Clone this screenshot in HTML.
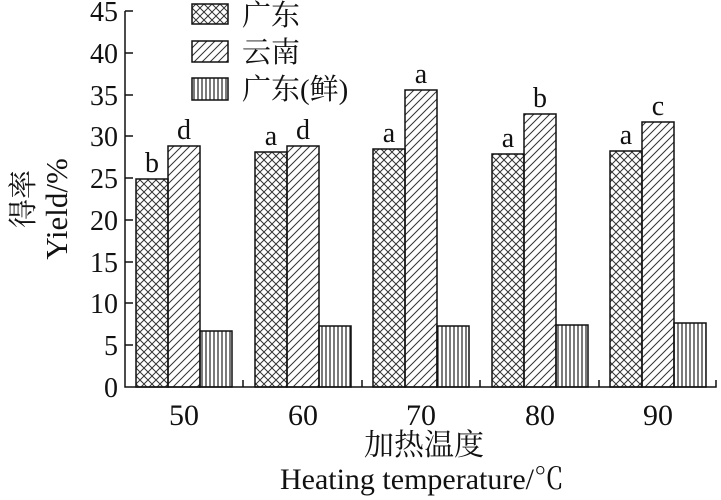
<!DOCTYPE html>
<html><head><meta charset="utf-8"><style>body{margin:0;background:#fff}svg{display:block}text{font-family:"Liberation Serif","Noto Serif CJK SC",serif;fill:#111}</style></head><body>
<svg width="721" height="500" viewBox="0 0 721 500" xmlns="http://www.w3.org/2000/svg">
<defs>
<pattern id="x" width="8" height="8" patternUnits="userSpaceOnUse"><path d="M0,0L8,8M8,0L0,8" stroke="#333" stroke-width="1"/></pattern>
<pattern id="d" width="8" height="8" patternUnits="userSpaceOnUse"><path d="M-2,10L10,-2M-2,2L2,-2M6,10L10,6" stroke="#333" stroke-width="1"/></pattern>
<pattern id="v" width="4" height="8" patternUnits="userSpaceOnUse"><path d="M2,0V8" stroke="#222" stroke-width="1.2"/></pattern>
</defs>
<g stroke="#111" stroke-width="1.5" fill="none">
<path d="M125,11V387H716V380"/>
<path d="M125,11h8M125,53h8M125,95h8M125,136h8M125,178h8M125,220h8M125,262h8M125,303h8M125,345h8"/>
<path d="M243,387v-7M362,387v-7M480,387v-7M599,387v-7"/>
</g>
<g font-size="28" text-anchor="end">
<text x="118" y="21">45</text><text x="118" y="63">40</text><text x="118" y="105">35</text><text x="118" y="146">30</text><text x="118" y="188">25</text><text x="118" y="230">20</text><text x="118" y="272">15</text><text x="118" y="313">10</text><text x="118" y="355">5</text><text x="118" y="397">0</text>
</g>
<g stroke="#111" stroke-width="1.5">
<rect x="136" y="179" width="32" height="208" fill="url(#x)"/><rect x="168" y="146" width="32" height="241" fill="url(#d)"/><rect x="200" y="331" width="32" height="56" fill="url(#v)"/>
<rect x="255" y="152" width="32" height="235" fill="url(#x)"/><rect x="287" y="146" width="32" height="241" fill="url(#d)"/><rect x="319" y="326" width="32" height="61" fill="url(#v)"/>
<rect x="373" y="149" width="32" height="238" fill="url(#x)"/><rect x="405" y="90" width="32" height="297" fill="url(#d)"/><rect x="437" y="326" width="32" height="61" fill="url(#v)"/>
<rect x="492" y="154" width="32" height="233" fill="url(#x)"/><rect x="524" y="114" width="32" height="273" fill="url(#d)"/><rect x="556" y="325" width="32" height="62" fill="url(#v)"/>
<rect x="610" y="151" width="32" height="236" fill="url(#x)"/><rect x="642" y="122" width="32" height="265" fill="url(#d)"/><rect x="674" y="323" width="32" height="64" fill="url(#v)"/>
<rect x="192" y="4" width="36" height="20" fill="url(#x)"/><rect x="192" y="41" width="36" height="21" fill="url(#d)"/><rect x="192" y="78" width="36" height="22" fill="url(#v)"/>
</g>
<g font-size="28" text-anchor="middle">
<text x="152" y="172">b</text><text x="184" y="139">d</text>
<text x="271" y="145">a</text><text x="303" y="139">d</text>
<text x="389" y="142">a</text><text x="421" y="83">a</text>
<text x="508" y="147">a</text><text x="540" y="107">b</text>
<text x="626" y="144">a</text><text x="658" y="115">c</text>
</g>
<g font-size="30" text-anchor="middle">
<text x="184" y="425">50</text><text x="303" y="425">60</text><text x="421" y="425">70</text><text x="540" y="425">80</text><text x="658" y="425">90</text>
<text x="424" y="455">加热温度</text>
<text x="422" y="489">Heating temperature/℃</text>
</g>
<g font-size="29">
<text x="242" y="25">广东</text><text x="242" y="62">云南</text><text x="242" y="99">广东(鲜)</text>
</g>
<text transform="translate(33,199) rotate(-90)" font-size="29" text-anchor="middle">得率</text>
<text transform="translate(67,209) rotate(-90)" font-size="31" text-anchor="middle">Yield/%</text>
</svg>
</body></html>
